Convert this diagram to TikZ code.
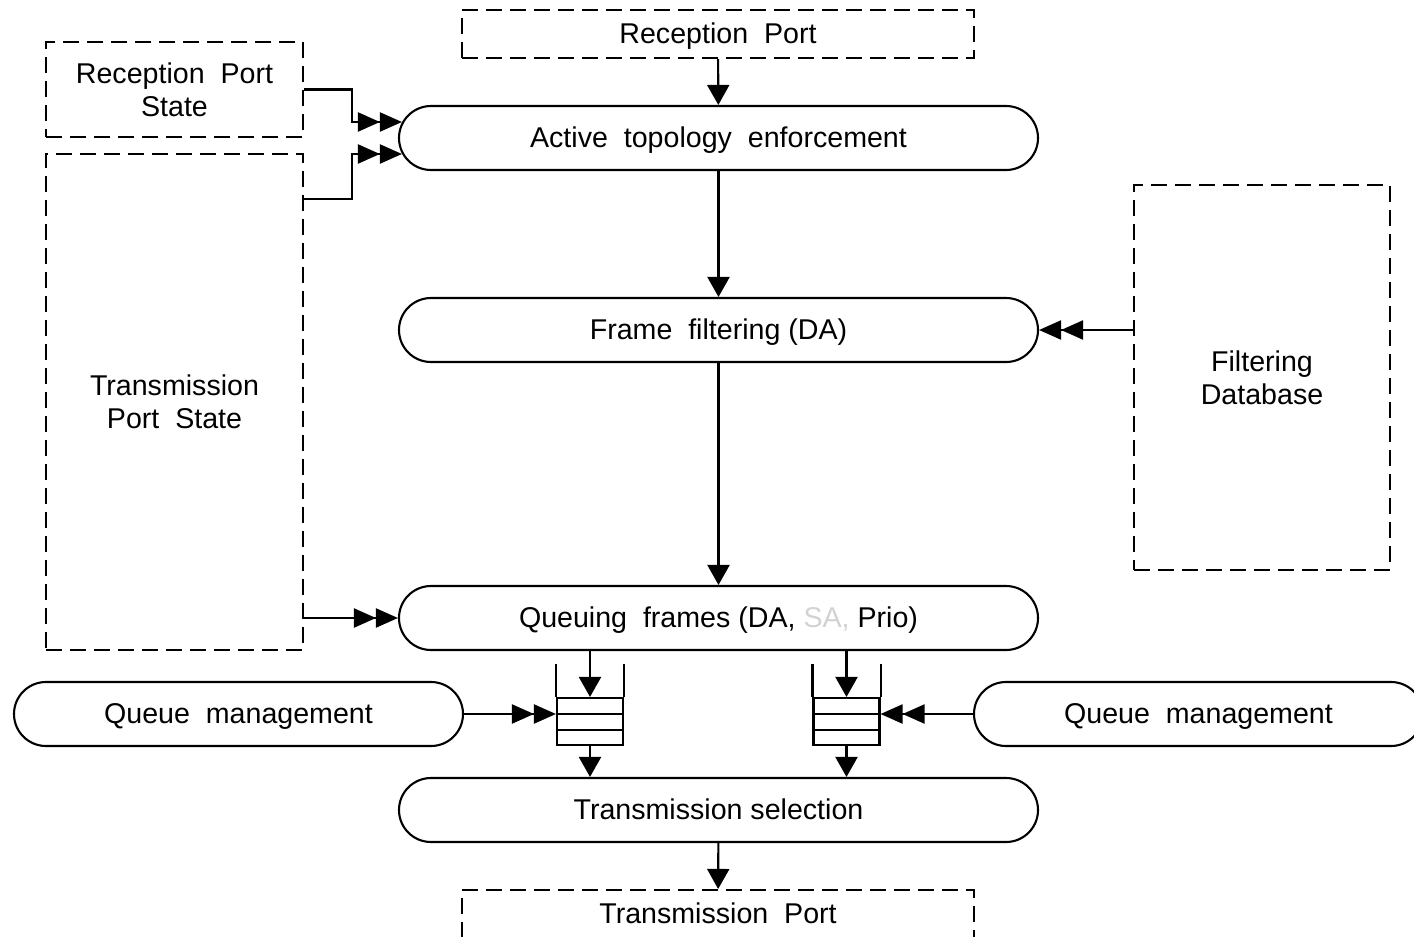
\documentclass[tikz,border=0pt]{standalone}
\usepackage{fontspec}
\setmainfont{Liberation Sans}
\usetikzlibrary{arrows.meta,positioning,calc}

\tikzstyle{proc}=[rectangle,draw,line width=1.05pt,rounded corners=16pt,minimum width=319.5pt,minimum height=32pt,inner sep=0pt,text height=12pt,text depth=3pt,text centered]
\tikzstyle{port}=[rectangle,draw,dash pattern=on 8pt off 4pt,line width=1.05pt,inner sep=0pt,align=center]
\tikzstyle{line port}=[port,minimum width=256pt,minimum height=24pt,text height=12pt,text depth=3pt]
\tikzstyle{queue}=[rectangle,draw,line width=1.05pt,minimum width=33pt,minimum height=23.5pt,inner sep=0pt]
\tikzstyle{flow}=[-{Triangle[length=10pt,width=11pt]},line width=1.05pt]
\tikzstyle{dbl}=[-{Triangle[length=11pt,width=9.5pt]Triangle[length=11pt,width=9.5pt]},line width=1.05pt]

\begin{document}
\begin{tikzpicture}[x=0.5pt,y=-0.5pt,font=\fontsize{14.3}{16.5}\selectfont]

\useasboundingbox (0,0) rectangle (1414,937);

\node (rp) [line port] at (718,34) {Reception~ Port} ;
\node (rps) [port,minimum width=128.5pt,minimum height=47.5pt] at (174.5,89.5) {Reception~ Port\\State} ;
\node (tps) [port,minimum width=128.5pt,minimum height=248pt] at (174.5,402) {Transmission\\Port~ State} ;
\node (fdb) [port,minimum width=128pt,minimum height=192.5pt] at (1262,377.5) {Filtering\\Database} ;

\node (ate) [proc] at (718.5,138) {Active~ topology~ enforcement} ;
\node (ff) [proc] at (718.5,330) {Frame~ filtering (DA)} ;
\node (qf) [proc] at (718.5,618) {Queuing~ frames (DA, \textcolor{gray!35}{SA,} Prio)} ;
\node (ts) [proc] at (718.5,810) {Transmission selection} ;
\node (tp) [line port] at (718,914) {Transmission~ Port} ;

\node (qml) [proc,minimum width=224.5pt] at (238.5,714) {Queue~ management} ;
\node (qmr) [proc,minimum width=224.5pt] at (1198.5,714) {Queue~ management} ;

% the two queues
\node (q1) [queue] at (590,721.5) {} ;
\node (q2) [queue] at (846.5,721.5) {} ;
\foreach \q in {q1,q2} {
  \draw [line width=1.05pt] (\q.north west) -- ++(0,-33) ;
  \draw [line width=1.05pt] (\q.north east) -- ++(0,-33) ;
  \draw [line width=1.05pt] ($(\q.north west)!0.34!(\q.south west)$) -- ($(\q.north east)!0.34!(\q.south east)$) ;
  \draw [line width=1.05pt] ($(\q.north west)!0.68!(\q.south west)$) -- ($(\q.north east)!0.68!(\q.south east)$) ;
  \draw [flow] (qf.south -| \q) -- (\q.north) ;
  \draw [flow] (\q.south) -- (ts.north -| \q) ;
}

\draw [flow] (rp) -- (ate) ;
\draw [flow] (ate) -- (ff) ;
\draw [flow] (ff) -- (qf) ;
\draw [flow] (ts) -- (tp) ;

\draw [dbl] (rps.east) -- ++(48,0) |- ([xshift=2pt,yshift=8pt]ate.west) ;
\draw [dbl] ([yshift=-23pt]tps.north east) -- ++(48,0) |- ([xshift=2pt,yshift=-8pt]ate.west) ;
\draw [dbl] (fdb.west |- ff) -- (ff.east) ;
\draw [dbl] (tps.east |- qf) -- (qf.west) ;
\draw [dbl] (qml.east) -- (q1.west |- qml) ;
\draw [dbl] (qmr.west) -- (q2.east |- qmr) ;

\end{tikzpicture}
\end{document}
